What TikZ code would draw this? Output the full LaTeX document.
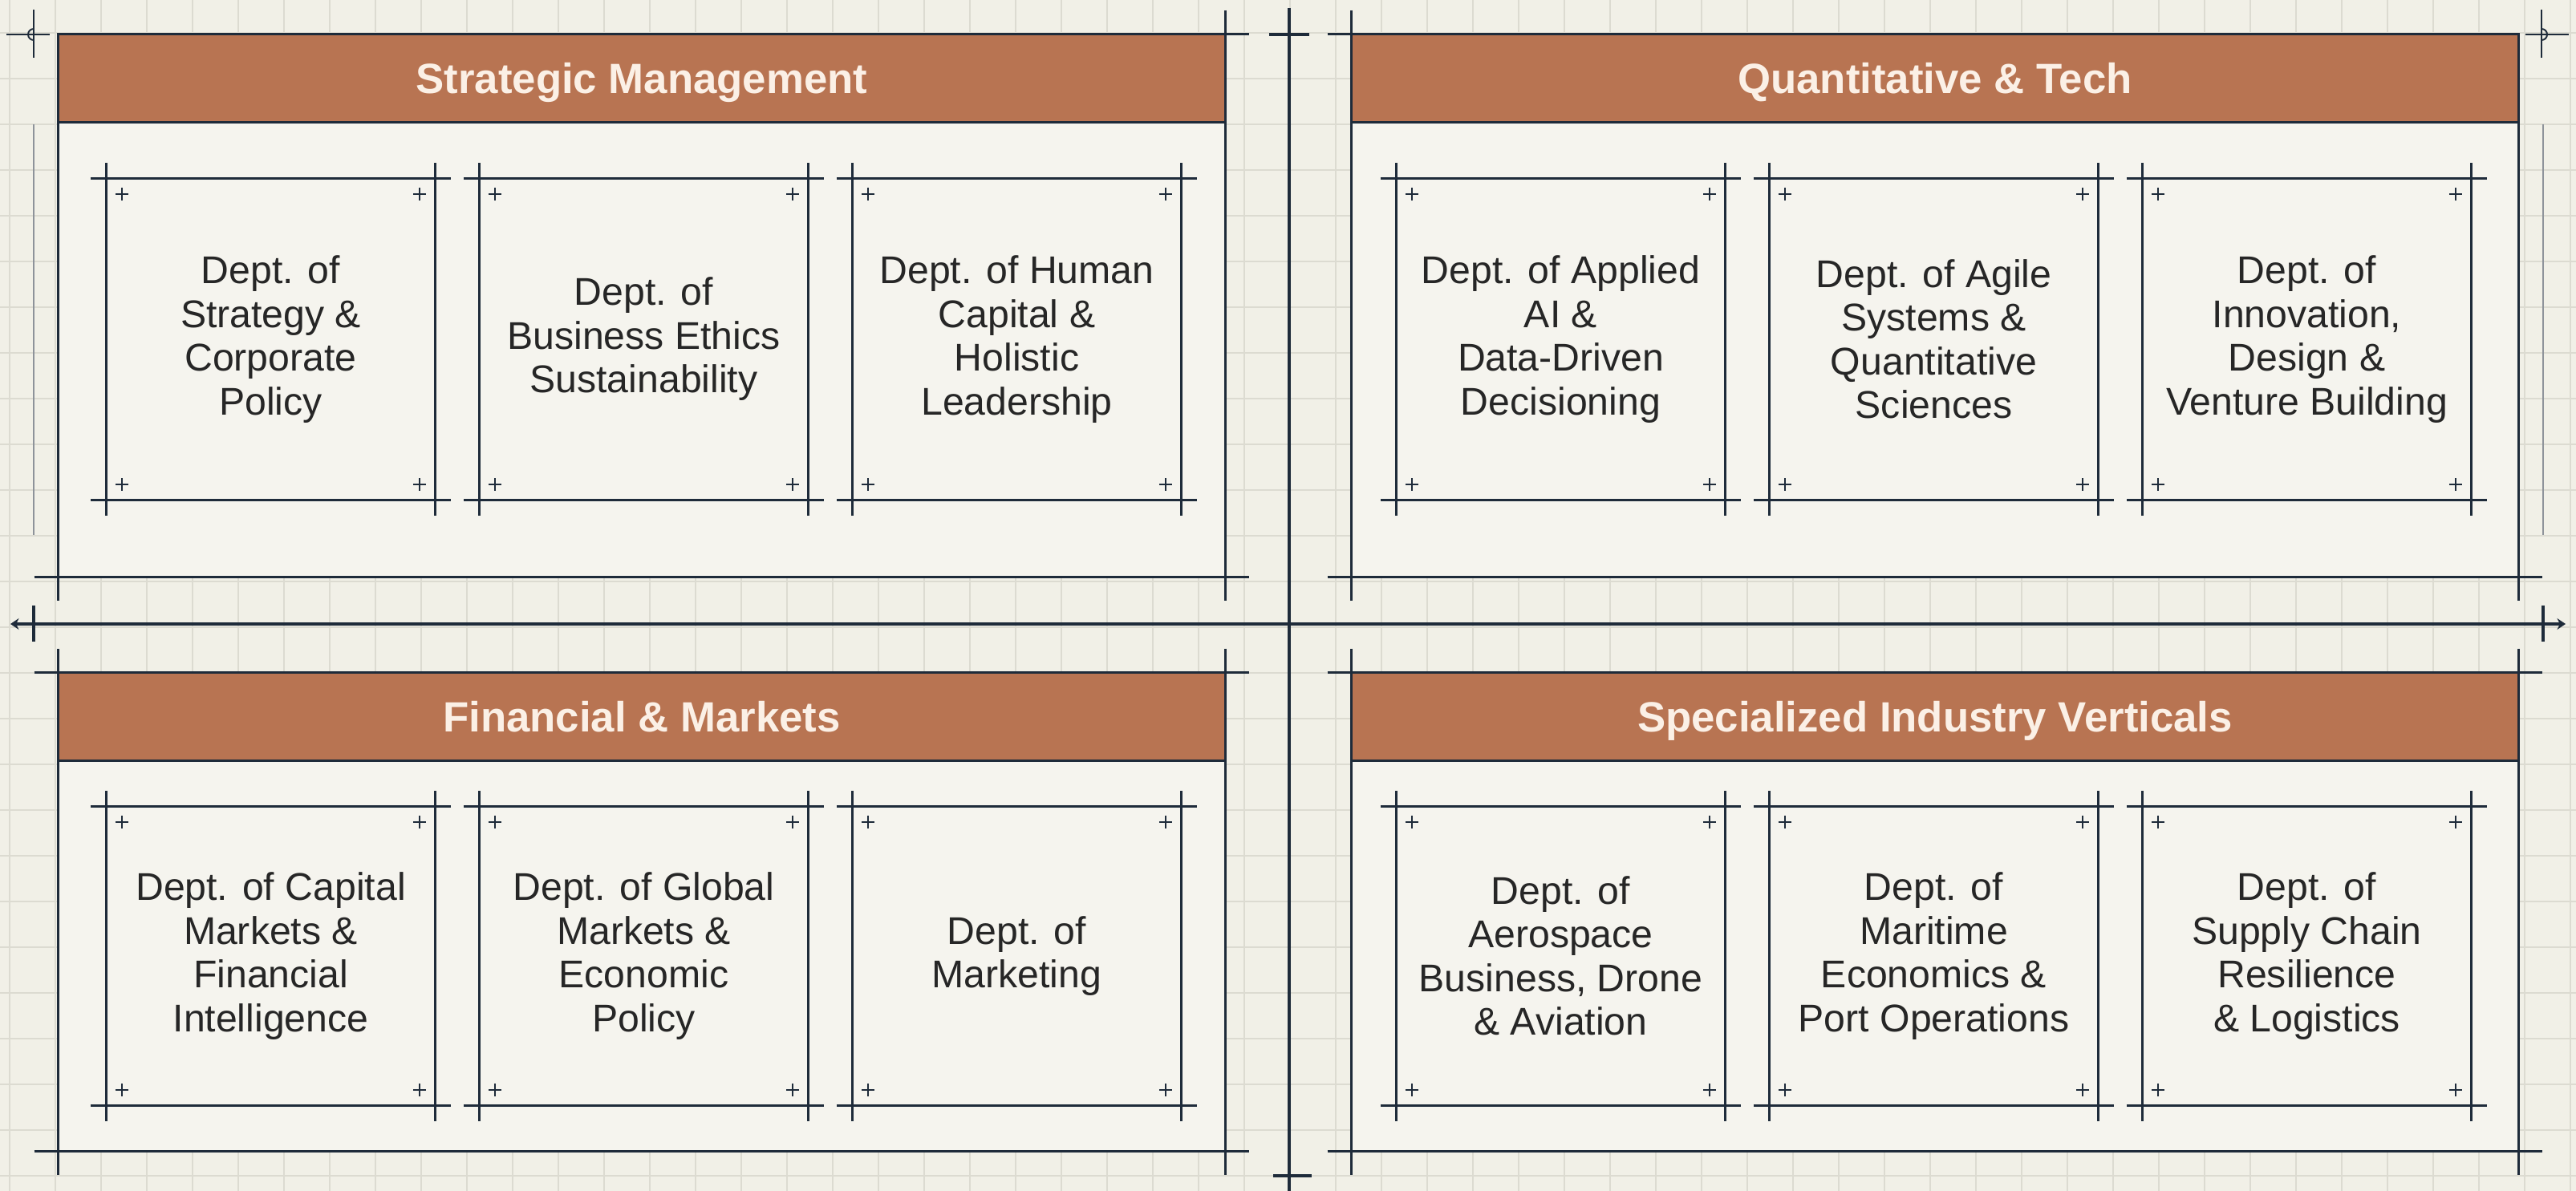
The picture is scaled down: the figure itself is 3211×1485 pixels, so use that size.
\documentclass[tikz,border=0pt]{standalone}
\usepackage{fontspec}
\setmainfont{Liberation Sans}
\usetikzlibrary{arrows.meta}

\definecolor{paper}{HTML}{F1F0E7}
\definecolor{panelfill}{HTML}{F5F4EE}
\definecolor{gridgray}{HTML}{DCDBD1}
\definecolor{headfill}{HTML}{B87452}
\definecolor{headtext}{HTML}{FBF0E6}
\definecolor{ink}{HTML}{1E2B3A}
\definecolor{marggray}{HTML}{8E939A}

\tikzset{
    frameline/.style={ink, line width=0.85pt},
    panelbox/.style={fill=panelfill, minimum width=14.54cm, inner sep=0pt, outer sep=0pt},
    headbar/.style={fill=headfill, draw=ink, line width=0.85pt, minimum width=14.54cm,
        minimum height=1.1cm, inner sep=0pt, outer sep=0pt, text=headtext,
        text height=10.7pt, text depth=0pt,
        font=\fontsize{15pt}{18pt}\selectfont\bfseries},
    deptbox/.style={minimum width=4.09cm, inner sep=0pt, outer sep=0pt, align=center,
        text=black!85, font=\fontsize{13.7pt}{15.5pt}\selectfont},
    pluscross/.pic={\draw[ink, line width=0.45pt] (-8,0) -- (8,0) (0,-8) -- (0,8);},
}

% lines of a box, running on past its corners
\newcommand\cropframe[4]{%
    \draw[frameline, shorten <=-#2, shorten >=-#3] (#1.north west) -- (#1.north east);
    \draw[frameline, shorten <=-#2, shorten >=-#4] (#1.north west) -- (#1.south west);
    \draw[frameline, shorten <=-#3, shorten >=-#4] (#1.north east) -- (#1.south east);
    \draw[frameline, shorten <=-#4, shorten >=-#4] (#1.south west) -- (#1.south east);
}

\begin{document}
\begin{tikzpicture}[x=0.01cm, y=-0.01cm]

    \useasboundingbox (0,0) rectangle (3211,1485);
    \fill[paper] (0,0) rectangle (3211,1485);

    % squared paper
    \foreach \gx in {12,69,...,3211}
        \draw[gridgray, line width=0.4pt] (\gx,0) -- (\gx,1485);
    \foreach \gy in {41,98,...,1485}
        \draw[gridgray, line width=0.4pt] (0,\gy) -- (3211,\gy);

    % the four panels
    \node[panelbox, minimum height=6.76cm] (smpanel) at (800,381) {};
    \node[panelbox, minimum height=6.76cm] (qtpanel) at (2412,381) {};
    \node[panelbox, minimum height=5.96cm] (fmpanel) at (800,1137) {};
    \node[panelbox, minimum height=5.96cm] (ivpanel) at (2412,1137) {};

    \node[headbar, anchor=north] (smhead) at (smpanel.north) {Strategic Management};
    \node[headbar, anchor=north] (qthead) at (qtpanel.north) {Quantitative \& Tech};
    \node[headbar, anchor=north] (fmhead) at (fmpanel.north) {Financial \& Markets};
    \node[headbar, anchor=north] (ivhead) at (ivpanel.north) {Specialized Industry Verticals};

    \cropframe{smpanel}{0cm}{0.3cm}{0.3cm}
    \cropframe{qtpanel}{0.3cm}{0cm}{0.3cm}
    \cropframe{fmpanel}{0.3cm}{0.3cm}{0.3cm}
    \cropframe{ivpanel}{0.3cm}{0.3cm}{0.3cm}

    % departments
    \node[deptbox, minimum height=4cm] (sm1) at (337.5,423) {Dept. of\\Strategy \&\\Corporate\\Policy};
    \node[deptbox, minimum height=4cm] (sm2) at (802.5,423) {Dept. of\\Business Ethics\\Sustainability};
    \node[deptbox, minimum height=4cm] (sm3) at (1267.5,423) {Dept. of Human\\Capital \&\\Holistic\\Leadership};

    \node[deptbox, minimum height=4cm] (qt1) at (1945.5,423) {Dept. of Applied\\AI \&\\Data-Driven\\Decisioning};
    \node[deptbox, minimum height=4cm] (qt2) at (2410.5,423) {Dept. of Agile\\Systems \&\\Quantitative\\Sciences};
    \node[deptbox, minimum height=4cm] (qt3) at (2875.5,423) {Dept. of\\Innovation,\\Design \&\\Venture Building};

    \node[deptbox, minimum height=3.72cm] (fm1) at (337.5,1192) {Dept. of Capital\\Markets \&\\Financial\\Intelligence};
    \node[deptbox, minimum height=3.72cm] (fm2) at (802.5,1192) {Dept. of Global\\Markets \&\\Economic\\Policy};
    \node[deptbox, minimum height=3.72cm] (fm3) at (1267.5,1192) {Dept. of\\Marketing};

    \node[deptbox, minimum height=3.72cm] (iv1) at (1945.5,1192) {Dept. of\\Aerospace\\Business, Drone\\\& Aviation};
    \node[deptbox, minimum height=3.72cm] (iv2) at (2410.5,1192) {Dept. of\\Maritime\\Economics \&\\Port Operations};
    \node[deptbox, minimum height=3.72cm] (iv3) at (2875.5,1192) {Dept. of\\Supply Chain\\Resilience\\\& Logistics};

    \foreach \c in {sm1,sm2,sm3,qt1,qt2,qt3,fm1,fm2,fm3,iv1,iv2,iv3}
    {
        \cropframe{\c}{0.2cm}{0.2cm}{0.2cm}
        \pic at ([shift={(19,19)}]\c.north west) {pluscross};
        \pic at ([shift={(-19,19)}]\c.north east) {pluscross};
        \pic at ([shift={(19,-19)}]\c.south west) {pluscross};
        \pic at ([shift={(-19,-19)}]\c.south east) {pluscross};
    }

    % centre cross
    \coordinate (vtop) at (1607,10);
    \coordinate (vbot) at (1607,1485);
    \coordinate (hleft) at (13,778);
    \coordinate (hright) at (3198,778);
    \draw[ink, line width=1.15pt] (vtop) -- (vbot);
    \draw[ink, line width=1.15pt, {Stealth[length=3pt,width=4pt]}-{Stealth[length=3pt,width=4pt]}] (hleft) -- (hright);
    \draw[ink, line width=1.15pt] (1582,43) -- (1632,43) (1587,1466) -- (1635,1466);
    \draw[ink, line width=1.15pt] (42,755) -- (42,800) (3170,755) -- (3170,800);

    % corner marks and margin rules
    \draw[ink, line width=0.55pt] (42,12) -- (42,72) (8,43) -- (62,43);
    \draw[ink, line width=0.55pt] (42,36) arc[start angle=270, end angle=90, radius=7];
    \draw[ink, line width=0.55pt] (3168,12) -- (3168,72) (3148,43) -- (3202,43);
    \draw[ink, line width=0.55pt] (3168,36) arc[start angle=-90, end angle=90, radius=7];
    \draw[marggray, line width=0.55pt] (42,155) -- (42,667) (3170,155) -- (3170,667);

\end{tikzpicture}
\end{document}
